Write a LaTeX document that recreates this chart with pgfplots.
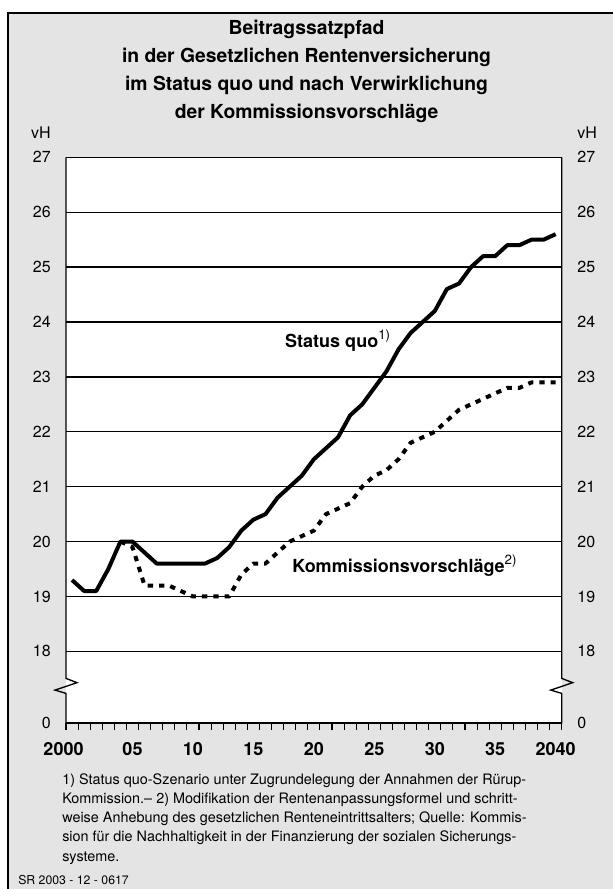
\documentclass[border=0pt]{standalone}
\usepackage{fontspec}
\setmainfont{TeX Gyre Heros}
\usepackage{pgfplots}
\pgfplotsset{compat=1.18}
\definecolor{bggray}{RGB}{228,228,228}

\begin{document}
\begin{tikzpicture}
\path[use as bounding box] (0,0) rectangle (459.75pt,-666.75pt);
\fill[bggray] (6.2pt,-9.75pt) rectangle (459.75pt,-666.75pt);
\draw[line width=1.5pt] (6.2pt,-666.75pt) -- (6.2pt,-9.75pt) -- (459.75pt,-9.75pt);

% title
\begin{scope}[every node/.style={anchor=base, inner sep=0pt, font=\fontsize{14.5}{17}\bfseries}]
\node at (229.9pt,-26pt) {Beitragssatzpfad};
\node at (229.9pt,-47pt) {in der Gesetzlichen Rentenversicherung};
\node at (229.9pt,-68pt) {im Status quo und nach Verwirklichung};
\node at (229.9pt,-89pt) {der Kommissionsvorschläge};
\end{scope}

\begin{axis}[
  at={(49.5pt,-542.475pt)}, anchor=south west,
  scale only axis, width=371.8pt, height=424.5pt,
  xmin=1999.5, xmax=2040.5, ymin=16.69, ymax=27,
  clip=false,
  axis line style={draw=none},
  axis background/.style={fill=white},
  /pgf/number format/assume math mode=true,
  ytick={16.69,18,19,20,21,22,23,24,25,26,27},
  yticklabels={0,18,19,20,21,22,23,24,25,26,27},
  ymajorgrids, grid style={black, line width=1pt},
  xtick={2005,2010,...,2040},
  xticklabels={05,10,15,20,25,30,35,2040},
  extra x ticks={2000}, extra x tick labels={2000},
  extra x tick style={xmajorgrids=false, xticklabel style={xshift=-6.4pt}},
  minor xtick={1999.5,2000.5,...,2040.5},
  xtick pos=bottom, ytick pos=left,
  tick align=outside,
  major tick length=0pt, minor tick length=5.25pt,
  minor tick style={black, line width=0.8pt},
  ytick style={draw=none},
  xticklabel style={anchor=base, inner sep=0pt, yshift=-23.8pt, font=\fontsize{13.5}{16}\bfseries},
  yticklabel style={anchor=east, inner sep=0pt, xshift=-11.25pt, font=\fontsize{12}{14}\selectfont},
]
\addplot[black, line width=3pt, dash pattern=on 4pt off 4.5pt, line join=round] coordinates {
(2004,20.0) (2005,19.9) (2006,19.2) (2007,19.2) (2008,19.2) (2009,19.1) (2010,19.0)
(2011,19.0) (2012,19.0) (2013,19.0) (2014,19.4) (2015,19.6) (2016,19.6) (2017,19.8)
(2018,20.0) (2019,20.1) (2020,20.2) (2021,20.5) (2022,20.6) (2023,20.7) (2024,21.0)
(2025,21.2) (2026,21.3) (2027,21.5) (2028,21.8) (2029,21.9) (2030,22.0) (2031,22.2)
(2032,22.4) (2033,22.5) (2034,22.6) (2035,22.7) (2036,22.8) (2037,22.8) (2038,22.9)
(2039,22.9) (2040,22.9)
};
\addplot[black, line width=3pt, line join=round] coordinates {
(2000,19.3) (2001,19.1) (2002,19.1) (2003,19.5) (2004,20.0) (2005,20.0) (2006,19.8)
(2007,19.6) (2008,19.6) (2009,19.6) (2010,19.6) (2011,19.6) (2012,19.7) (2013,19.9)
(2014,20.2) (2015,20.4) (2016,20.5) (2017,20.8) (2018,21.0) (2019,21.2) (2020,21.5)
(2021,21.7) (2022,21.9) (2023,22.3) (2024,22.5) (2025,22.8) (2026,23.1) (2027,23.5)
(2028,23.8) (2029,24.0) (2030,24.2) (2031,24.6) (2032,24.7) (2033,25.0) (2034,25.2)
(2035,25.2) (2036,25.4) (2037,25.4) (2038,25.5) (2039,25.5) (2040,25.6)
};
% frame with axis breaks
\draw[line width=1pt] (axis cs:1999.5,27) -- (axis cs:2040.5,27);
\draw[line width=1.5pt] (axis cs:1999.5,16.69) -- (axis cs:2040.5,16.69);
\draw[line width=1pt] (axis cs:1999.5,27) -- (axis cs:1999.5,17.508)
  -- ([xshift=8.25pt]axis cs:1999.5,17.43) -- ([xshift=-8.25pt]axis cs:1999.5,17.295)
  -- (axis cs:1999.5,17.235) -- (axis cs:1999.5,16.69);
\draw[line width=1pt] (axis cs:2040.5,27) -- (axis cs:2040.5,17.508)
  -- ([xshift=8.25pt]axis cs:2040.5,17.43) -- ([xshift=-8.25pt]axis cs:2040.5,17.295)
  -- (axis cs:2040.5,17.235) -- (axis cs:2040.5,16.69);
% labels
\node[anchor=base west, inner sep=0pt, font=\fontsize{13.5}{16}\bfseries] at (axis cs:2017.6,23.53)
  {Status quo\raisebox{6pt}{\fontsize{10}{12}\mdseries 1)}};
\node[anchor=base west, inner sep=0pt, font=\fontsize{13.5}{16}\bfseries] at (axis cs:2018.2,19.43)
  {Kommissionsvorschläge\raisebox{6pt}{\fontsize{10}{12}\mdseries 2)}};
\node[anchor=east, inner sep=0pt, font=\fontsize{12}{14}\selectfont] at ([xshift=-11.25pt]axis cs:1999.5,27.45) {vH};
\node[anchor=west, inner sep=0pt, font=\fontsize{12}{14}\selectfont] at ([xshift=11.6pt]axis cs:2040.5,27.45) {vH};
\end{axis}

\begin{axis}[
  at={(49.5pt,-542.475pt)}, anchor=south west,
  scale only axis, width=371.8pt, height=424.5pt,
  xmin=1999.5, xmax=2040.5, ymin=16.69, ymax=27,
  axis line style={draw=none},
  xtick=\empty,
  ytick={16.69,18,19,20,21,22,23,24,25,26,27},
  yticklabels={0,18,19,20,21,22,23,24,25,26,27},
  yticklabel pos=right, ytick pos=right,
  major tick length=0pt, ytick style={draw=none},
  yticklabel style={anchor=west, inner sep=0pt, xshift=11.6pt, font=\fontsize{12}{14}\selectfont},
]
\end{axis}

% footnotes
\begin{scope}[every node/.style={anchor=base west, inner sep=0pt, font=\fontsize{10.8}{13}\selectfont}]
\node at (46.5pt,-588pt) {1) Status quo-Szenario unter Zugrundelegung der Annahmen der Rürup-};
\node at (46.5pt,-602.5pt) {Kommission.– 2) Modifikation der Rentenanpassungsformel und schritt-};
\node at (46.5pt,-616.95pt) {weise Anhebung des gesetzlichen Renteneintrittsalters; Quelle: Kommis-};
\node at (46.5pt,-631.4pt) {sion für die Nachhaltigkeit in der Finanzierung der sozialen Sicherungs-};
\node at (46.5pt,-645.9pt) {systeme.};
\end{scope}
\node[anchor=base west, inner sep=0pt, font=\fontsize{9.2}{11}\selectfont] at (13.5pt,-663.5pt) {SR 2003 - 12 - 0617};
\end{tikzpicture}
\end{document}
